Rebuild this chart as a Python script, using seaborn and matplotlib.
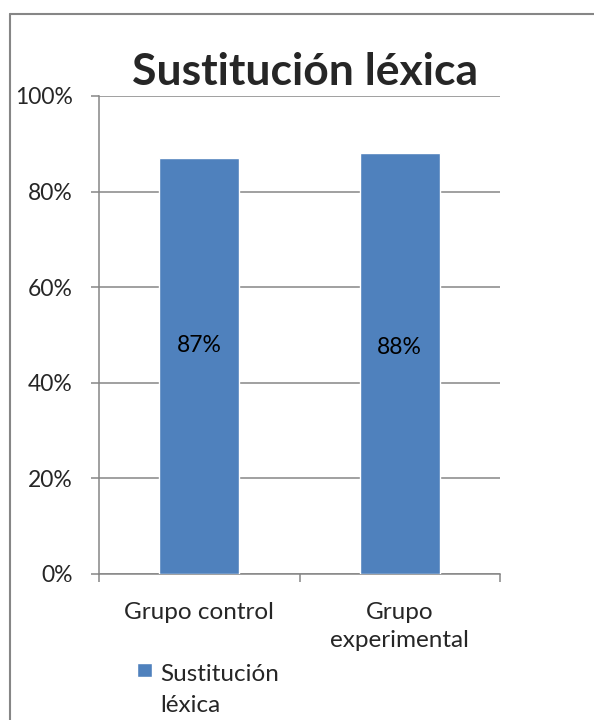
import matplotlib
matplotlib.use("Agg")
import matplotlib.pyplot as plt
import matplotlib.patches as mpatches
from matplotlib.container import BarContainer
from matplotlib.lines import Line2D
from matplotlib.legend_handler import HandlerPatch
from matplotlib.ticker import PercentFormatter
import seaborn as sns

# Data
groups = ["Grupo control", "Grupo\nexperimental"]
values = [0.87, 0.88]
series_name = "Sustitución\nléxica"
title = "Sustitución léxica"

bar_color = "#4F81BD"
line_color = "#868686"

sns.set_style("white")
plt.rcParams['font.family'] = ['Lato', 'DejaVu Sans']

fig = plt.figure(figsize=(5.94, 7.2), dpi=100)
ax = fig.add_axes([99 / 594, 146 / 720, 401 / 594, 478 / 720])

sns.barplot(x=groups, y=values, color=bar_color, saturation=1, width=0.4,
            label=series_name, ax=ax, zorder=3)

# Axes styling
ax.set_xlim(-0.5, 1.5)
ax.set_ylim(0, 1)
ax.set_yticks([0, 0.2, 0.4, 0.6, 0.8, 1.0])
ax.yaxis.set_major_formatter(PercentFormatter(1.0, decimals=0))
ax.yaxis.grid(True, color=line_color, linewidth=1.1, zorder=0)
ax.set_axisbelow(True)
ax.set_xlabel("")
ax.set_ylabel("")
for s in ["top", "right"]:
    ax.spines[s].set_visible(False)
for s in ["left", "bottom"]:
    ax.spines[s].set_color(line_color)
    ax.spines[s].set_linewidth(1.1)

ax.tick_params(axis="y", direction="out", length=6, width=1.1, color=line_color,
               pad=13, labelsize=16.5, left=True)
ax.tick_params(axis="x", which="major", length=0, pad=20, labelsize=17.5)
ax.set_xticks([-0.5, 0.5, 1.5], minor=True)
ax.tick_params(axis="x", which="minor", direction="out", length=6, width=1.1,
               color=line_color, bottom=True)
for lbl in ax.get_xticklabels():
    lbl.set_linespacing(1.45)
    lbl.set_verticalalignment("top")

# Data labels
label_y = [0.479, 0.474]
for i, v in enumerate(values):
    ax.text(i, label_y[i], f"{v:.0%}", ha="center", va="center", fontsize=16.5,
            color="black")

# Title
fig.text(305 / 594, 1 - 85 / 720, title, ha="center", va="baseline",
         fontsize=32, fontweight="bold")


# Legend with the square next to the first line of the label
def first_line_square(legend, orig_handle, xdescent, ydescent, width, height, fontsize):
    size = 10.5
    return mpatches.Rectangle((width - size, (height - size) / 2 + 14.5), size, size)


def copy_bar_style(legend_handle, orig_handle):
    legend_handle.update_from(orig_handle.patches[0])


handles, labels = ax.get_legend_handles_labels()
leg = ax.legend(handles[:1], labels[:1], loc="upper left",
                bbox_to_anchor=(137 / 594, 1 - 664 / 720), bbox_transform=fig.transFigure,
                frameon=False, fontsize=17.5, handlelength=0.6, handletextpad=0.35,
                borderaxespad=0, borderpad=0,
                handler_map={BarContainer: HandlerPatch(patch_func=first_line_square,
                                                        update_func=copy_bar_style)})
for t in leg.get_texts():
    t.set_linespacing(1.6)

# Outer chart border (only left and top edges are inside the image)
bx, by = 9.5 / 594, 1 - 13.5 / 720
fig.add_artist(Line2D([bx, bx], [0, by], transform=fig.transFigure,
                      color=line_color, linewidth=1.5))
fig.add_artist(Line2D([bx, 1], [by, by], transform=fig.transFigure,
                      color=line_color, linewidth=1.5))

fig.savefig("out.png", dpi=100)
